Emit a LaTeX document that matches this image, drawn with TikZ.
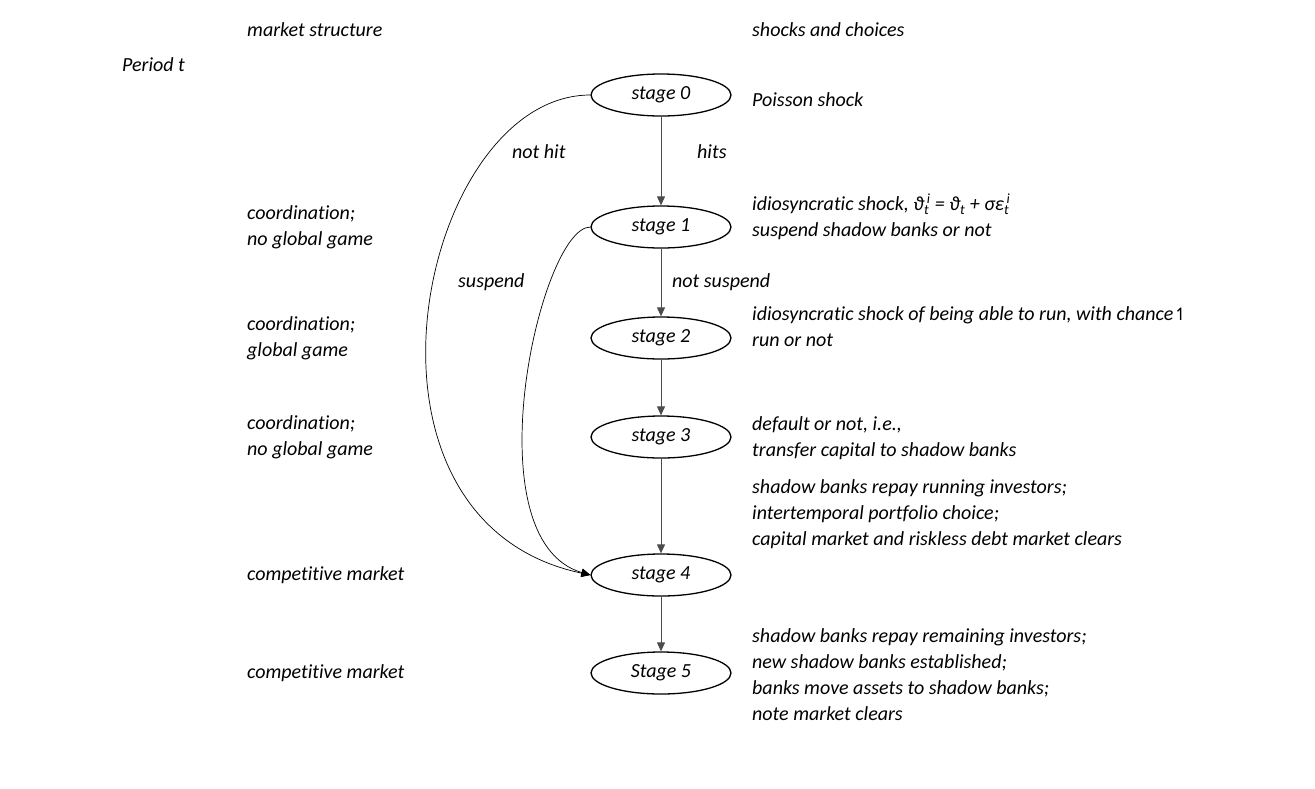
\documentclass[tikz,border=0pt]{standalone}
\usepackage{fontspec}
\setmainfont{Carlito}[Ligatures=NoCommon]
\newfontfamily\symfont{DejaVu Sans}
\usetikzlibrary{arrows.meta,shapes.geometric}
\newcommand\mysubsup[2]{\textsubscript{#1}\kern-2.5pt\textsuperscript{#2}}
\begin{document}
\begin{tikzpicture}[x=1pt,y=-1pt,
  every node/.style={font=\fontsize{20}{26}\selectfont\itshape, inner sep=0pt},
  stagebox/.style={ellipse, draw, line width=1.3pt, minimum width=140pt, minimum height=42pt},
  txt/.style={anchor=west, align=left},
  flow/.style={draw=black!70, line width=1pt, -{Triangle[length=9pt,width=8pt]}},
  curvearrow/.style={draw=black, line width=0.7pt, -{Triangle[length=9pt,width=8pt]}}]
\useasboundingbox (0,0) rectangle (1315,788);

% headers
\node[txt] (hl) at (247,30) {market structure};
\node[txt] (hr) at (752,30) {shocks and choices};
\node[txt] (per) at (122,65) {Period t};

% stages
\node[stagebox] (s0) at (661,95) {stage 0};
\node[stagebox] (s1) at (661,227) {stage 1};
\node[stagebox] (s2) at (661,338) {stage 2};
\node[stagebox] (s3) at (661,437) {stage 3};
\node[stagebox] (s4) at (661,575) {stage 4};
\node[stagebox] (s5) at (661,673) {Stage 5};

% straight arrows
\draw[flow] (s0) -- (s1);
\draw[flow] (s1) -- (s2);
\draw[flow] (s2) -- (s3);
\draw[flow] (s3) -- (s4);
\draw[flow] (s4) -- (s5);

% curved arrows
\draw[curvearrow] (s0.west) .. controls (420,95) and (330,520) .. (s4.west);
\draw[curvearrow] (s1.west) .. controls (540,227) and (470,540) .. (s4.west);

% edge labels
\node[txt] (lhits) at (697,152) {hits};
\node[txt] (lns) at (672,282) {not suspend};
\node[txt] (lnh) at (512,152) {not hit};
\node[txt] (lsus) at (458,282) {suspend};

% left column
\node[txt] (m1) at (247,227) {coordination;\\no global game};
\node[txt] (m2) at (247,338) {coordination;\\global game};
\node[txt] (m3) at (247,437) {coordination;\\no global game};
\node[txt] (m4) at (247,575) {competitive market};
\node[txt] (m5) at (247,673) {competitive market};

% right column
\node[txt] (r0) at (752,100) {Poisson shock};
\node[txt] (r1) at (752,217) {idiosyncratic shock, ϑ\mysubsup{t}{i} = ϑ\textsubscript{t} + σε\mysubsup{t}{i}\\suspend shadow banks or not};
\node[txt] (r2) at (752,327) {idiosyncratic shock of being able to run, with chance{\symfont\upshape\fontsize{17}{20}\selectfont ↿}\\run or not};
\node[txt] (r3) at (752,438) {default or not, i.e.,\\transfer capital to shadow banks};
\node[txt] (r4) at (752,514) {shadow banks repay running investors;\\intertemporal portfolio choice;\\capital market and riskless debt market clears};
\node[txt] (r5) at (752,675) {shadow banks repay remaining investors;\\new shadow banks established;\\banks move assets to shadow banks;\\note market clears};
\end{tikzpicture}
\end{document}
